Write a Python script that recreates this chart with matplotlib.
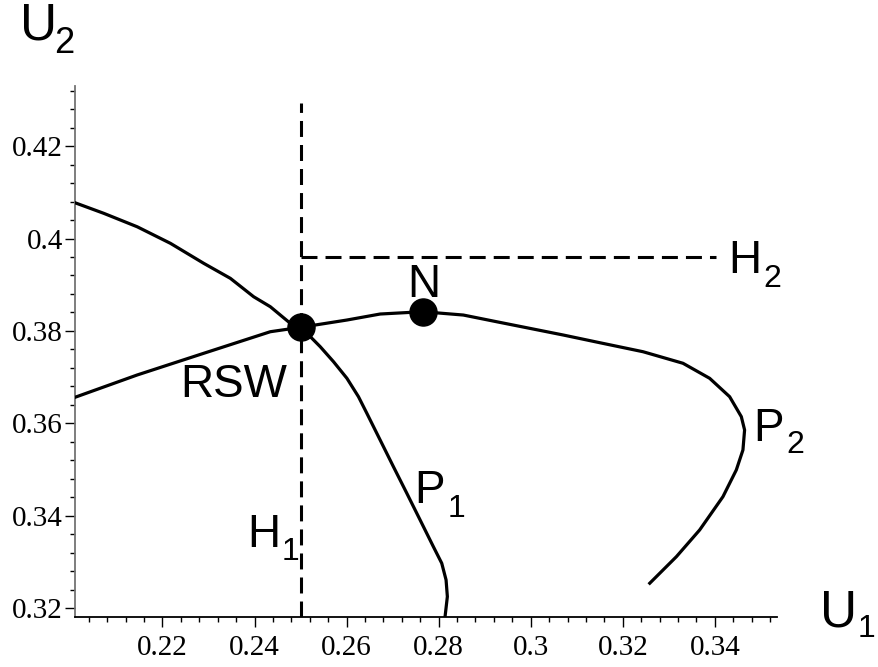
import numpy as np
import matplotlib
matplotlib.use('Agg')
import matplotlib.pyplot as plt
from matplotlib.ticker import MultipleLocator

plt.rcParams['lines.scale_dashes'] = False

# Branch P1 (descending through RSW)
p1_u1 = [0.201, 0.20727, 0.21451, 0.22174, 0.22896, 0.23475, 0.23981, 0.24343,
         0.24777, 0.25, 0.25139, 0.25427, 0.25716, 0.26007, 0.26258, 0.2644,
         0.26729, 0.27017, 0.27308, 0.27597, 0.27885, 0.28067, 0.28161, 0.28189,
         0.28139]
p1_u2 = [0.40774, 0.40544, 0.40254, 0.39895, 0.39463, 0.39138, 0.38740, 0.38524,
         0.38165, 0.38078, 0.37949, 0.37659, 0.37334, 0.36975, 0.36577, 0.36218,
         0.35640, 0.35063, 0.34488, 0.33910, 0.33332, 0.32973, 0.32612, 0.32251,
         0.31818]

# Branch P2 (rising through RSW and N, then folding back)
p2_u1 = [0.201, 0.21451, 0.22896, 0.24343, 0.25, 0.26007, 0.26729, 0.27655,
         0.28536, 0.2926, 0.30705, 0.31501, 0.3244, 0.33308, 0.33887, 0.34321,
         0.34575, 0.34646, 0.3461, 0.34466, 0.34176, 0.3367, 0.33165, 0.32586]
p2_u2 = [0.36564, 0.37047, 0.37516, 0.37983, 0.38078, 0.38236, 0.38366, 0.38416,
         0.38344, 0.38199, 0.37912, 0.37745, 0.3755, 0.37300, 0.36975, 0.36577,
         0.36145, 0.35857, 0.35424, 0.34992, 0.34414, 0.33694, 0.33116, 0.32541]

# Special points
rsw = (0.25, 0.38078)
nash = (0.27655, 0.38416)

# Reference lines H1 (vertical) and H2 (horizontal)
h1_u1 = [0.25, 0.25]
h1_u2 = [0.3181, 0.4293]
h2_u1 = [0.25, 0.34033]
h2_u2 = [0.39605, 0.39605]

x_ticks = [0.22, 0.24, 0.26, 0.28, 0.30, 0.32, 0.34]
x_tick_labels = ['0.22', '0.24', '0.26', '0.28', '0.3', '0.32', '0.34']
y_ticks = [0.32, 0.34, 0.36, 0.38, 0.40, 0.42]
y_tick_labels = ['0.32', '0.34', '0.36', '0.38', '0.4', '0.42']

W, H = 879, 667
fig = plt.figure(figsize=(W / 100, H / 100), dpi=100)
ax = fig.add_axes([75 / W, (H - 617) / H, (777 - 75) / W, (617 - 86) / H])

ax.set_xlim(0.201, 0.3535)
ax.set_ylim(0.3181, 0.433)

lw = 2.3
ax.plot(p1_u1, p1_u2, color='black', lw=lw, solid_joinstyle='round', zorder=3)
ax.plot(p2_u1, p2_u2, color='black', lw=lw, solid_joinstyle='round', zorder=3)
ax.plot(h1_u1, h1_u2, color='black', lw=2.2, dashes=(11.5, 5.8), zorder=2)
ax.plot(h2_u1, h2_u2, color='black', lw=2.2, dashes=(11.5, 5.8), zorder=2)
ax.plot(*rsw, 'o', color='black', ms=19.5, zorder=4)
ax.plot(*nash, 'o', color='black', ms=19.5, zorder=4)

SANS = 'Liberation Sans'
big = dict(fontsize=33, family=SANS, va='baseline', ha='left')
small = dict(fontsize=23, family=SANS, va='baseline', ha='left')

# Point / curve labels (letter + subscript)
ax.text(0.22397, 0.36577, 'RSW', **big)
ax.text(0.27315, 0.38740, 'N', **big)
ax.text(0.23844, 0.33333, 'H', **big)
ax.text(0.24592, 0.33045, '1', **small)
ax.text(0.34293, 0.39260, 'H', **big)
ax.text(0.35059, 0.38957, '2', **small)
ax.text(0.27460, 0.34271, 'P', **big)
ax.text(0.28204, 0.33981, '1', **small)
ax.text(0.34842, 0.35625, 'P', **big)
ax.text(0.35556, 0.35359, '2', **small)

# Axis labels
fig.text(820 / W, (H - 626.7) / H, 'U', fontsize=37, family=SANS,
         va='baseline', ha='left')
fig.text(858 / W, (H - 636.7) / H, '1', fontsize=23, family=SANS,
         va='baseline', ha='left')
fig.text(19.7 / W, (H - 40) / H, 'U', fontsize=37, family=SANS,
         va='baseline', ha='left')
fig.text(54 / W, (H - 53) / H, '2', fontsize=26, family=SANS,
         va='baseline', ha='left')

# Axes styling
for side in ['top', 'right']:
    ax.spines[side].set_visible(False)
ax.spines['left'].set_color('0.45')
ax.spines['left'].set_linewidth(1.3)
ax.spines['bottom'].set_linewidth(1.3)

ax.set_xticks(x_ticks)
ax.set_xticklabels(x_tick_labels)
ax.set_yticks(y_ticks)
ax.set_yticklabels(y_tick_labels)
ax.xaxis.set_minor_locator(MultipleLocator(0.004))
ax.yaxis.set_minor_locator(MultipleLocator(0.004))
ax.tick_params(which='major', length=7.2, width=1.0, direction='out',
               labelsize=21, pad=1.5)
ax.tick_params(which='minor', length=3.3, width=1.0, direction='out')
ax.tick_params(axis='x', which='major', pad=6)
for t in ax.get_xticklabels() + ax.get_yticklabels():
    t.set_family('Liberation Serif')

fig.savefig('out.png', dpi=100)
